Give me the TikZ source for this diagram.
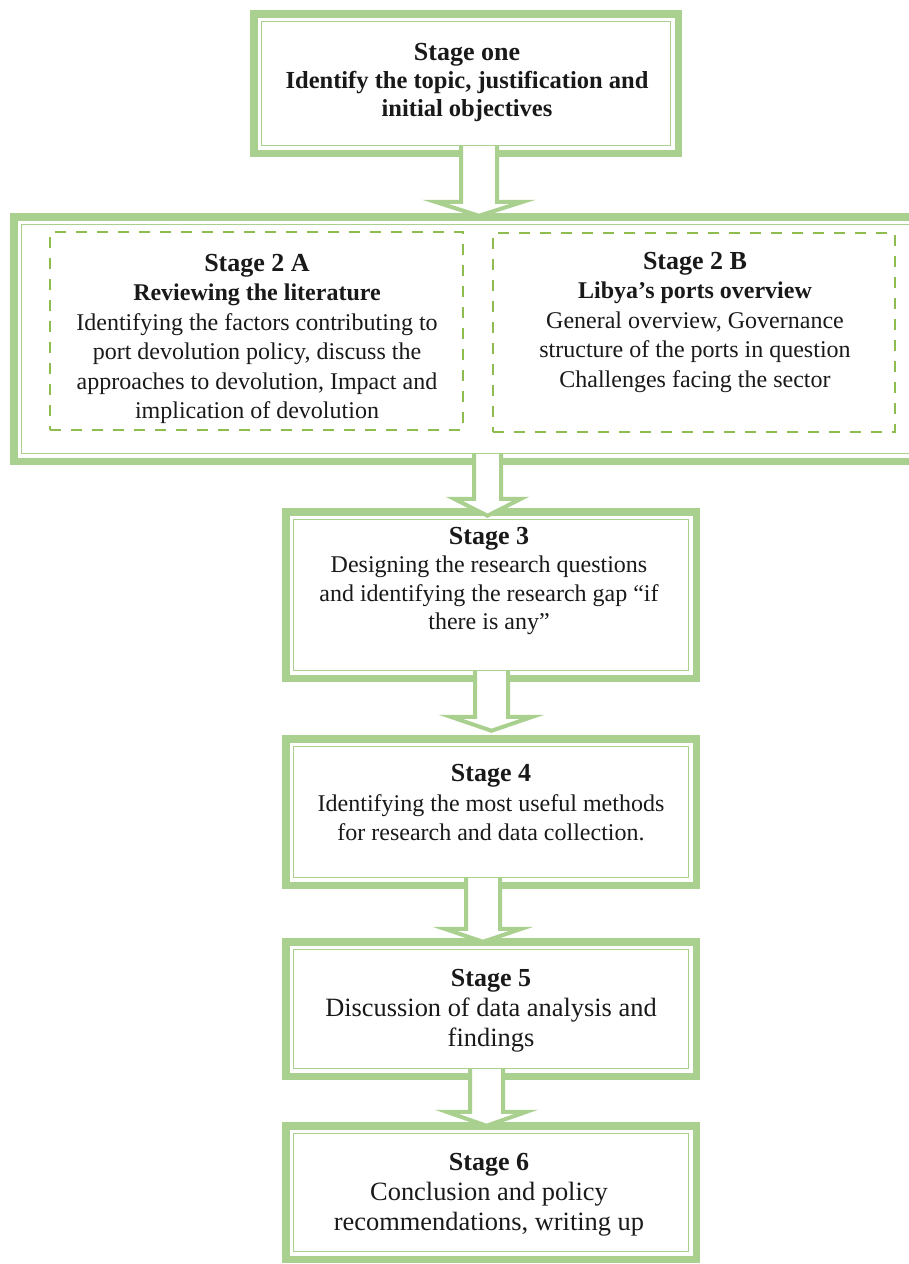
\documentclass[tikz,border=0pt]{standalone}
\usepackage{fontspec}
\setmainfont{Liberation Serif}
\usetikzlibrary{calc}

\definecolor{boxgreen}{RGB}{169,208,142}
\definecolor{dashgreen}{RGB}{143,188,79}
\definecolor{inktext}{RGB}{25,25,25}

\tikzset{
  stagebox/.style={rectangle, draw=boxgreen, line width=7.5pt, inner sep=0pt, outer sep=0pt},
  innerrule/.style={draw=boxgreen, line width=1.8pt},
  dashbox/.style={rectangle, draw=dashgreen, line width=1.5pt, dash pattern=on 11pt off 10pt, inner sep=0pt, outer sep=0pt},
  arrowline/.style={draw=boxgreen, line width=4pt, line join=miter, miter limit=10},
  stagetext/.style={align=center, text=inktext, inner sep=0pt},
}

\newcommand{\headfont}{\fontsize{26}{29.5}\selectfont\bfseries}
\newcommand{\bodyfont}[2]{\fontsize{#1}{#2}\selectfont}

% thin rule just inside the thick frame of a stage box
\newcommand{\innerframe}[1]{%
  \draw[innerrule] ($(#1.north west)+(7.75,7.75)$) rectangle ($(#1.south east)+(-7.75,-7.75)$);}

% hollow block arrow from the bottom of box #1 to the top of box #2
% #3 horizontal shift, #4 shaft half width, #5 head half width,
% #6 head height, #7 tip offset below the top of #2
\newcommand{\stagearrow}[7]{%
  \fill[white] let \p1=(#1.south), \p2=(#2.north) in
    ({\x1+(#3pt)-(#4pt)},{\y1+6.75pt}) --
    ({\x1+(#3pt)-(#4pt)},{\y2-(#7pt)+(#6pt)}) --
    ({\x1+(#3pt)-(#5pt)},{\y2-(#7pt)+(#6pt)}) --
    ({\x1+(#3pt)},{\y2-(#7pt)}) --
    ({\x1+(#3pt)+(#5pt)},{\y2-(#7pt)+(#6pt)}) --
    ({\x1+(#3pt)+(#4pt)},{\y2-(#7pt)+(#6pt)}) --
    ({\x1+(#3pt)+(#4pt)},{\y1+6.75pt}) -- cycle;
  \draw[arrowline] let \p1=(#1.south), \p2=(#2.north) in
    ({\x1+(#3pt)-(#4pt)},{\y1+7.75pt}) --
    ({\x1+(#3pt)-(#4pt)},{\y2-(#7pt)+(#6pt)}) --
    ({\x1+(#3pt)-(#5pt)},{\y2-(#7pt)+(#6pt)}) --
    ({\x1+(#3pt)},{\y2-(#7pt)}) --
    ({\x1+(#3pt)+(#5pt)},{\y2-(#7pt)+(#6pt)}) --
    ({\x1+(#3pt)+(#4pt)},{\y2-(#7pt)+(#6pt)}) --
    ({\x1+(#3pt)+(#4pt)},{\y1+7.75pt});}

\begin{document}
\begin{tikzpicture}[x=1pt, y=-1pt]
  \useasboundingbox (0,0) rectangle (909,1264);
  \fill[white] (0,0) rectangle (909,1264);
  \clip (0,0) rectangle (909,1264);

  % stage frames
  \node[stagebox, minimum width=424.5pt, minimum height=139.5pt] (s1) at (466,83.5) {};
  \node[stagebox, minimum width=932.5pt, minimum height=244.5pt] (s2) at (480,339) {};
  \node[stagebox, minimum width=410.5pt, minimum height=166.5pt] (s3) at (491,595) {};
  \node[stagebox, minimum width=410.5pt, minimum height=146.5pt] (s4) at (491,812) {};
  \node[stagebox, minimum width=410.5pt, minimum height=134.5pt] (s5) at (491,1009) {};
  \node[stagebox, minimum width=410.5pt, minimum height=133.5pt] (s6) at (491,1192.5) {};
  \innerframe{s1}
  \innerframe{s2}
  \innerframe{s3}
  \innerframe{s4}
  \innerframe{s5}
  \innerframe{s6}

  % the two halves of stage 2
  \node[dashbox, minimum width=413pt, minimum height=198pt] (dA) at (256.5,331) {};
  \node[dashbox, minimum width=402pt, minimum height=199pt] (dB) at (694,332.5) {};

  % flow arrows
  \stagearrow{s1}{s2}{13}{18}{44}{14}{-1}
  \stagearrow{s2}{s3}{7.5}{13.5}{33.5}{17}{4}
  \stagearrow{s3}{s4}{0.5}{16.5}{41}{14}{-8}
  \stagearrow{s4}{s5}{-8}{17}{38.5}{13}{0}
  \stagearrow{s5}{s6}{-4.5}{16.5}{40}{14}{0}

  % texts
  \node[stagetext, font=\bfseries\bodyfont{24.5}{28}] (t1) at (467,82)
    {{\fontsize{26}{28}\selectfont Stage one}\\Identify the topic, justification and\\initial objectives};
  \node[stagetext, font=\bodyfont{24}{29.5}] (t2a) at (257,339)
    {{\headfont Stage 2 A}\\{\bfseries Reviewing the literature}\\Identifying the factors contributing to\\port devolution policy, discuss the\\approaches to devolution, Impact and\\implication of devolution};
  \node[stagetext, font=\bodyfont{24}{29.5}] (t2b) at (695,322)
    {{\headfont Stage 2 B}\\{\bfseries Libya’s ports overview}\\General overview, Governance\\structure of the ports in question\\Challenges facing the sector};
  \node[stagetext, font=\bodyfont{24}{28.5}] (t3) at (489,581)
    {{\headfont Stage 3}\\Designing the research questions\\and identifying the research gap “if\\there is any”};
  \node[stagetext, font=\bodyfont{24}{29.5}] (t4) at (491,803)
    {{\headfont Stage 4}\\Identifying the most useful methods\\for research and data collection.};
  \node[stagetext, font=\bodyfont{26.4}{30}] (t5) at (491,1011)
    {{\headfont Stage 5}\\Discussion of data analysis and\\findings};
  \node[stagetext, font=\bodyfont{26.4}{30}] (t6) at (489,1195)
    {{\headfont Stage 6}\\Conclusion and policy\\recommendations, writing up};
\end{tikzpicture}
\end{document}
